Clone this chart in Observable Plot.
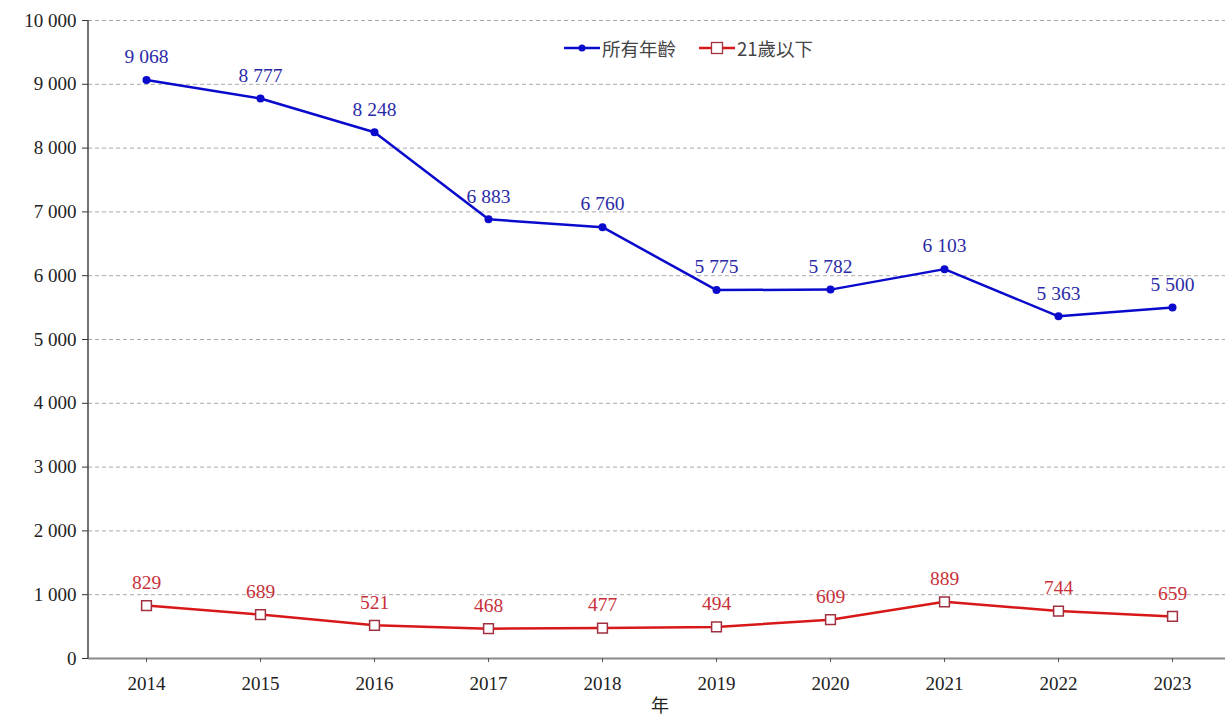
<!DOCTYPE html>
<html><head><meta charset="utf-8">
<script src="https://cdn.jsdelivr.net/npm/d3@7"></script>
<script src="https://cdn.jsdelivr.net/npm/@observablehq/plot@0.6"></script>
<style>
html,body{margin:0;padding:0;background:#fff;overflow:hidden}
#wrap{position:relative;width:1225px;height:722px}
#legend{position:absolute;left:563px;top:35px;font-family:"Noto Sans CJK TC","Liberation Serif",serif;font-size:18.5px;color:#444;display:flex;align-items:center}
#legend .it{display:flex;align-items:center;margin-right:22px}
#legend svg{margin-right:1px}
</style></head>
<body><div id="wrap"><div id="legend"></div></div>
<script>
const years = [2014,2015,2016,2017,2018,2019,2020,2021,2022,2023];
const allAges = [9068,8777,8248,6883,6760,5775,5782,6103,5363,5500];
const under21 = [829,689,521,468,477,494,609,889,744,659];
const yTicks = [0,1000,2000,3000,4000,5000,6000,7000,8000,9000,10000];
const seriesNames = ["所有年齡","21歲以下"];

const fmt = v => d3.format(",")(v).replace(/,/g, " ");
const blueData = years.map((y,i)=>({year:String(y), value:allAges[i]}));
const redData = years.map((y,i)=>({year:String(y), value:under21[i]}));
const BLUE="#0a0acc", RED="#d81818", BLUET="#2a2aa8", REDT="#c8303a";

const chart = Plot.plot({
  width:1225, height:722,
  marginLeft:88, marginRight:-5, marginTop:20, marginBottom:64,
  style:{fontFamily:"'Liberation Serif', serif", fontSize:"19px", color:"#222", background:"#fff"},
  x:{type:"point", domain:years.map(String), padding:0.5, label:null},
  y:{domain:[0,10000], label:null},
  marks:[
    Plot.gridY(yTicks.slice(1), {stroke:"#aaa", strokeOpacity:1, strokeDasharray:"4,3", strokeWidth:1}),
    Plot.ruleY([0], {stroke:"#888", strokeWidth:2}),
    Plot.axisY(yTicks, {tickFormat:fmt, tickSize:6, tickPadding:6, fontSize:19, fill:"#222", stroke:"#333"}),
    Plot.axisX({tickSize:4, tickPadding:14, fontSize:19, fill:"#222", stroke:"#555", label:null}),
    Plot.line(blueData, {x:"year", y:"value", stroke:BLUE, strokeWidth:2.5}),
    Plot.dot(blueData, {x:"year", y:"value", fill:BLUE, r:4}),
    Plot.text(blueData, {x:"year", y:"value", text:d=>fmt(d.value), dy:-23, fill:BLUET, fontSize:19.5}),
    Plot.line(redData, {x:"year", y:"value", stroke:RED, strokeWidth:2.5}),
    Plot.dot(redData, {x:"year", y:"value", symbol:"square", fill:"#fff", stroke:"#a03040", strokeWidth:1.5, r:5.5}),
    Plot.text(redData, {x:"year", y:"value", text:d=>fmt(d.value), dy:-23, fill:REDT, fontSize:19.5})
  ]
});
const wrap = document.getElementById("wrap");
wrap.insertBefore(chart, wrap.firstChild);
const svg = d3.select(chart);
svg.append("line").attr("x1",88).attr("x2",88).attr("y1",20).attr("y2",658).attr("stroke","#444").attr("stroke-width",1.5);
svg.append("text").attr("x",660).attr("y",712).attr("text-anchor","middle")
  .attr("font-family","'Noto Sans CJK TC', serif").attr("font-size",18).attr("fill","#222").text("年");

const lg = document.getElementById("legend");
lg.innerHTML =
 `<span class="it"><svg width="38" height="12"><line x1="1" x2="37" y1="6" y2="6" stroke="${BLUE}" stroke-width="2.5"/><circle cx="19" cy="6" r="3.5" fill="${BLUE}"/></svg><span>${seriesNames[0]}</span></span>`+
 `<span class="it"><svg width="38" height="14"><line x1="1" x2="37" y1="7" y2="7" stroke="${RED}" stroke-width="2.5"/><rect x="13.5" y="1.5" width="11" height="11" fill="#fff" stroke="#a03040" stroke-width="1.3"/></svg><span>${seriesNames[1]}</span></span>`;
</script></body></html>
